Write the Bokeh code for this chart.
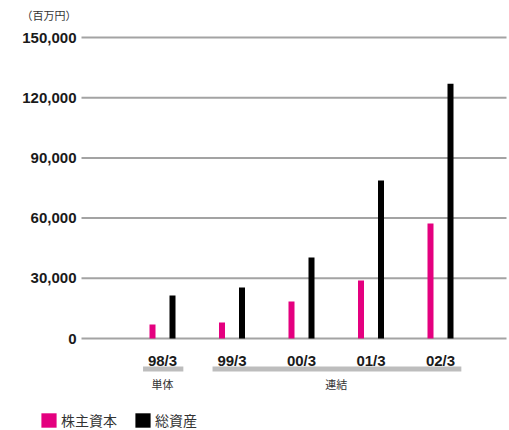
from bokeh.plotting import figure
from bokeh.models import Range1d, Legend, LegendItem
from bokeh.core.properties import value
from bokeh.embed import file_html
from bokeh.resources import INLINE

# ---- data (百万円) ----
periods = ["98/3", "99/3", "00/3", "01/3", "02/3"]
equity = [7000, 8000, 18400, 28900, 57300]          # 株主資本
total_assets = [21400, 25400, 40400, 78700, 127000]  # 総資産
y_ticks = [0, 30000, 60000, 90000, 120000, 150000]
groups = ["単体", "連結"]
group_members = [["98/3"], ["99/3", "00/3", "01/3", "02/3"]]
series_names = ["株主資本", "総資産"]
unit_label = "（百万円）"

PINK = "#e4007f"
BLACK = "#000000"
GRID = "#a3a3a3"
TEXT = "#1a1a1a"
LATIN = "Liberation Sans"
CJK = "Noto Sans CJK JP"

W, H = 509, 430
STEP = 69.5      # pixels per category slot
X0 = 162         # pixel centre of the first category
Y_ZERO = 338     # pixel row of value 0
Y_TOP = 37       # pixel row of the top tick
UNITS_PER_PX = y_ticks[-1] / (Y_ZERO - Y_TOP)


def ypx(py):
    """Pixel row -> value on the y scale."""
    return (Y_ZERO - py) * UNITS_PER_PX


def xpx(px):
    """Pixel column -> position on the category scale."""
    return (px - X0) / STEP


p = figure(width=W, height=H, output_backend="svg", toolbar_location=None,
           x_range=Range1d(xpx(0), xpx(W)), y_range=Range1d(ypx(H), ypx(0)),
           min_border=0, outline_line_color=None)
p.axis.visible = False
p.grid.visible = False
p.background_fill_color = "white"
p.border_fill_color = "white"

idx = list(range(len(periods)))

# horizontal gridlines
p.segment(x0=[xpx(81)] * len(y_ticks), x1=[xpx(506)] * len(y_ticks),
          y0=y_ticks, y1=y_ticks, line_color=GRID, line_width=2)

# y tick labels
p.text(x=[xpx(76)] * len(y_ticks), y=y_ticks,
       text=[f"{t:,}" for t in y_ticks], text_align="right",
       text_baseline="middle", text_font=value(LATIN), text_font_style="bold",
       text_font_size="15px", text_color=TEXT)

# unit label
p.text(x=[xpx(21)], y=[ypx(14)], text=[unit_label], text_align="left",
       text_baseline="middle", text_font=value(CJK), text_font_size="11px",
       text_color="#333333")

# bars
bar_w = 6 / STEP
off = 10 / STEP
r_eq = p.vbar(x=[i - off for i in idx], top=equity, bottom=0, width=bar_w,
              fill_color=PINK, line_color=None)
r_as = p.vbar(x=[i + off for i in idx], top=total_assets, bottom=0, width=bar_w,
              fill_color=BLACK, line_color=None)

# category labels
p.text(x=idx, y=[ypx(360)] * len(idx), text=periods, text_align="center",
       text_baseline="alphabetic", text_font=value(LATIN),
       text_font_style="bold", text_font_size="15px", text_color=TEXT)

# group brackets and their labels
gl, gr, gc = [], [], []
for members in group_members:
    first = periods.index(members[0])
    last = periods.index(members[-1])
    gl.append(first - 0.28)
    gr.append(last + 0.30)
    gc.append((first + last) / 2)
p.quad(left=gl, right=gr, bottom=[ypx(371)] * len(gl), top=[ypx(366)] * len(gl),
       fill_color="#bdbdbd", line_color=None)
p.text(x=gc, y=[ypx(383)] * len(gc), text=groups, text_align="center",
       text_baseline="middle", text_font=value(CJK), text_font_size="11px",
       text_color="#333333")

# legend
legend = Legend(items=[LegendItem(label=series_names[0], renderers=[r_eq], index=0),
                       LegendItem(label=series_names[1], renderers=[r_as], index=0)],
                location=(39, 0), orientation="horizontal",
                glyph_width=19, glyph_height=18, label_height=18,
                label_standoff=3, spacing=16, padding=0, margin=0,
                border_line_color=None, background_fill_alpha=0,
                label_text_font=CJK, label_text_font_size="14px",
                label_text_color="#333333", label_text_baseline="middle")
p.add_layout(legend)

open("out.html", "w").write(file_html(p, INLINE))
